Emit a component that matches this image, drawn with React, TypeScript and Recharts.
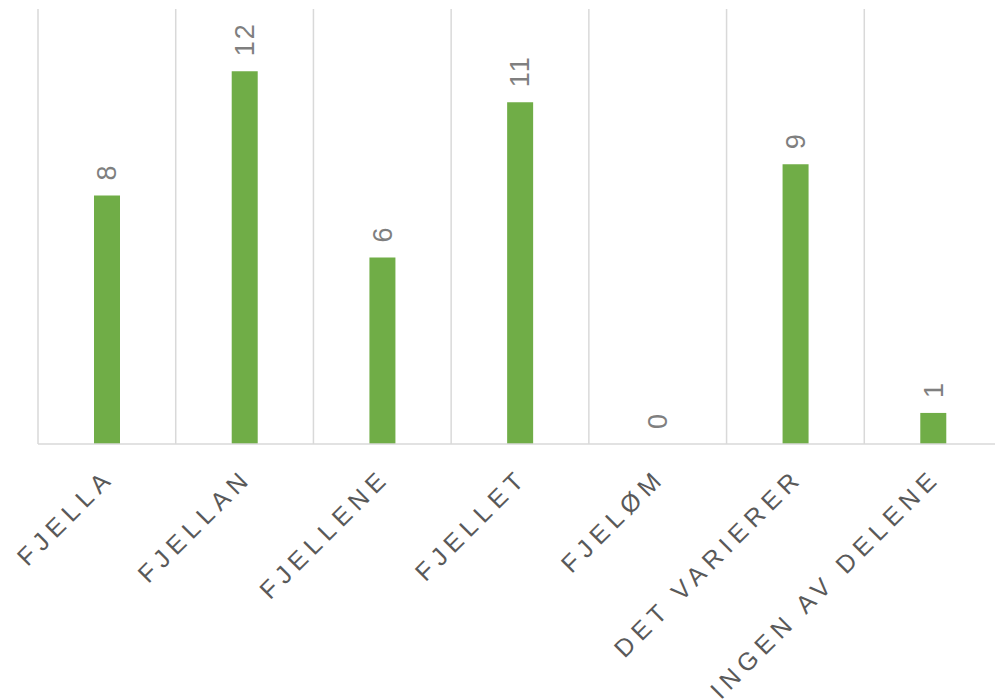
import React from 'react'
import {
  Bar,
  ComposedChart,
  LabelList,
  Line,
  ReferenceLine,
  XAxis,
  YAxis,
} from 'recharts'

const categories = [
  'FJELLA',
  'FJELLAN',
  'FJELLENE',
  'FJELLET',
  'FJELØM',
  'DET VARIERER',
  'INGEN AV DELENE',
]
const counts = [8, 12, 6, 11, 0, 9, 1]

const data = categories.map((name, i) => ({ name, count: counts[i] }))

const FONT = '"Liberation Sans", Arial, sans-serif'

const CategoryTick = (props: any) => {
  const { x, y, payload } = props
  const tx = x + 9
  const ty = y + 27
  return (
    <text
      x={tx}
      y={ty}
      transform={`rotate(-45, ${tx}, ${ty})`}
      textAnchor="end"
      fill="#595959"
      fontSize={25}
      letterSpacing={6}
      fontFamily={FONT}
    >
      {payload.value}
    </text>
  )
}

// labels hang off the (invisible) line points so the 0 bar gets one too
const ValueLabel = (props: any) => {
  const { x, y, value } = props
  const cx = x
  const cy = y - 15
  return (
    <text
      x={cx}
      y={cy}
      dy="0.35em"
      transform={`rotate(-90, ${cx}, ${cy})`}
      textAnchor="start"
      fill="#7F7F7F"
      fontSize={27}
      letterSpacing={2}
      fontFamily={FONT}
    >
      {String(value)}
    </text>
  )
}

export default function App() {
  return (
    <div
      style={{
        position: 'absolute',
        left: 0,
        top: 0,
        width: 995,
        height: 699,
        overflow: 'hidden',
        background: '#fff',
      }}
    >
      <ComposedChart
        width={1010}
        height={699}
        data={data}
        margin={{ top: 9, right: 8, left: 38, bottom: 55 }}
      >
        <XAxis
          dataKey="name"
          height={200}
          interval={0}
          tickLine={false}
          axisLine={{ stroke: '#D9D9D9', strokeWidth: 1.5 }}
          tick={<CategoryTick />}
        />
        <YAxis hide domain={[0, 14]} />
        {categories.map((c) => (
          <ReferenceLine
            key={c}
            x={c}
            position="start"
            stroke="#D9D9D9"
            strokeWidth={1.5}
          />
        ))}
        <Bar
          dataKey="count"
          fill="#70AD47"
          barSize={26}
          isAnimationActive={false}
        />
        <Line
          dataKey="count"
          stroke="none"
          dot={false}
          activeDot={false}
          legendType="none"
          isAnimationActive={false}
        >
          <LabelList dataKey="count" content={<ValueLabel />} />
        </Line>
      </ComposedChart>
    </div>
  )
}
